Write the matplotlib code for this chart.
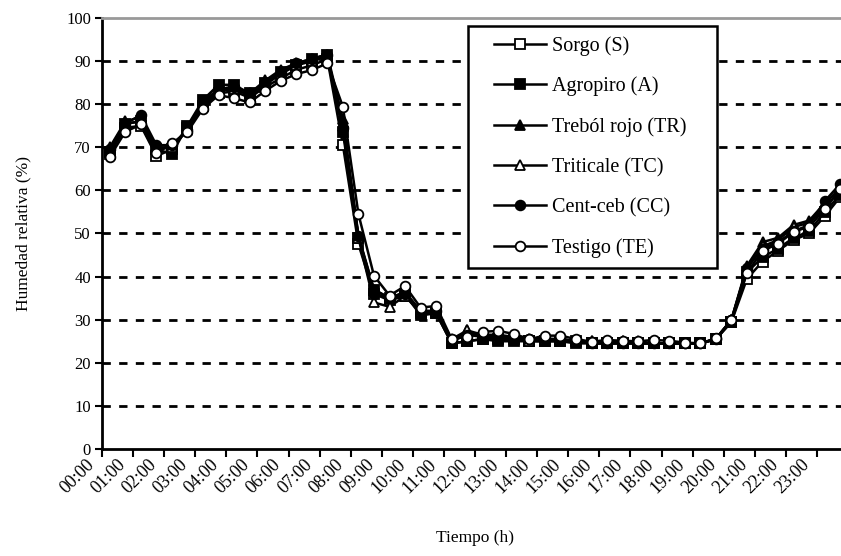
import numpy as np
import matplotlib.pyplot as plt
import matplotlib.transforms as mtransforms
from matplotlib.patches import Rectangle

plt.rcParams['font.family'] = ['Liberation Serif', 'DejaVu Serif']

# half-hour readings, 00:00 .. 23:30
horas = ["%02d:%02d" % (h, m) for h in range(24) for m in (0, 30)]
tick_labels = ["%02d:00" % h for h in range(24)]

sorgo = [68.5, 74.5, 75, 68, 69.5, 74.5, 79.5, 82.5, 83, 81.5, 84, 86, 88, 89, 90.5, 70.5,
         47.5, 36, 34.5, 35.5, 31.5, 31.5, 24.5, 25, 25.5, 25.5, 25.5, 25, 25, 25, 25, 24.5,
         24.5, 24.5, 24.5, 24.5, 24.5, 24.5, 24.5, 25.5, 29.5, 39.5, 43.5, 46, 48.5, 50, 54, 58.5]
agropiro = [69, 75.5, 76, 69.5, 68.5, 75, 81, 84.5, 84.5, 82.5, 85, 87.5, 89, 90.5, 91.5, 73.5,
            49, 37, 35, 36, 31, 31.5, 24.5, 25, 25.5, 25, 25, 25, 25, 25, 24.5, 24.5,
            24.5, 24.5, 24.5, 24.5, 24.5, 24.5, 24.5, 25.5, 29.5, 41, 44.5, 46.5, 49, 50.5, 55, 59]
trebol = [70, 76, 77, 70, 70, 74.5, 80.5, 83.5, 84, 82.5, 85.5, 88, 89.5, 90.5, 91.5, 76.5,
          49.5, 37, 35, 36.5, 32, 32, 25.5, 27.5, 26.5, 26.5, 26, 25.5, 25.5, 25.5, 25, 25,
          25, 25, 25, 24.5, 24.5, 24.5, 24.5, 25.5, 30, 42.5, 48, 49, 52, 53, 57, 60.5]
triticale = [69.5, 75.5, 76, 69.5, 70, 74, 80, 83, 83.5, 82, 84.5, 87, 89, 90, 91, 75,
             49, 34, 33, 35.5, 32, 32, 25, 27.5, 26, 26, 26, 25, 25.5, 25.5, 25, 25,
             25, 25, 24.5, 24.5, 24.5, 24.5, 24.5, 25.5, 30, 42, 47, 48.5, 51.5, 52.5, 56, 60]
centceb = [69.5, 75.5, 77.5, 70.5, 70.5, 74, 80.5, 83.5, 84, 82.5, 85, 87.5, 89.5, 90.5, 91.5, 74.5,
           49.5, 36, 35, 36, 32, 32, 25, 26.5, 26, 26, 25.5, 25.5, 25.5, 25.5, 25, 24.5,
           24.5, 24.5, 24.5, 24.5, 24.5, 24.5, 24.5, 25.5, 30, 42, 46.5, 48, 50.5, 52, 57.5, 61.5]
testigo = [67.8, 73.6, 75.3, 68.6, 70.9, 73.6, 79.0, 82.1, 81.4, 80.4, 83.1, 85.4, 87.0, 87.9, 89.5, 79.4,
           54.5, 40.2, 35.6, 37.8, 32.8, 33.2, 25.5, 26.1, 27.2, 27.4, 26.7, 25.5, 26.3, 26.3, 25.5, 24.9,
           25.3, 25.1, 25.0, 25.3, 25.1, 24.7, 24.5, 25.7, 29.9, 40.9, 46.0, 47.6, 50.4, 51.6, 55.6, 60.3]

series = [
    ("Sorgo (S)", sorgo, "s", "white"),
    ("Agropiro (A)", agropiro, "s", "black"),
    ("Treból rojo (TR)", trebol, "^", "black"),
    ("Triticale (TC)", triticale, "^", "white"),
    ("Cent-ceb (CC)", centceb, "o", "black"),
    ("Testigo (TE)", testigo, "o", "white"),
]

W, H = 841, 556
fig = plt.figure(figsize=(W / 100, H / 100), dpi=100)
ax = fig.add_axes([102 / W, 1 - 449 / H, 746 / W, 431 / H])

x = np.arange(len(horas))
for name, vals, mk, fc in series:
    ax.plot(x, vals, color="black", lw=1.8, marker=mk, markersize=7,
            markerfacecolor=fc, markeredgecolor="black", markeredgewidth=1.3,
            label=name, clip_on=False, zorder=3)

ax.set_xlim(-0.5, len(horas) - 0.5)
ax.set_ylim(0, 100)

# gridlines
for v in range(10, 100, 10):
    ax.axhline(v, color="black", lw=2, ls=(0, (3, 3)), zorder=1)

ax.set_yticks(range(0, 101, 10))
ax.tick_params(axis="y", direction="out", length=5, width=1.5, labelsize=12, pad=3)

# tick marks between categories, labels every hour
ax.set_xticks(np.arange(-0.5, len(horas), 2))
ax.set_xticklabels([])
ax.tick_params(axis="x", direction="out", length=6, width=1.5)
ax.set_xticks(np.arange(0, len(horas), 2), minor=True)
ax.set_xticklabels(tick_labels, minor=True, rotation=45, ha="right", va="top", fontsize=13)
ax.tick_params(axis="x", which="minor", length=0, pad=5)
offset = mtransforms.ScaledTranslation(-0.12, 0, fig.dpi_scale_trans)
for lbl in ax.xaxis.get_minorticklabels():
    lbl.set_transform(lbl.get_transform() + offset)

for s in ["left", "bottom"]:
    ax.spines[s].set_linewidth(2)
ax.spines["right"].set_visible(False)
ax.spines["top"].set_color("#999999")
ax.spines["top"].set_linewidth(2)

ax.set_xlabel("Tiempo (h)", fontsize=12.5, labelpad=24)
ax.set_ylabel("Humedad relativa (%)", fontsize=12.5, labelpad=25)

# legend box
fig.patches.append(Rectangle((468 / W, 1 - 268 / H), (717 - 468) / W, (268 - 26) / H,
                             transform=fig.transFigure, facecolor="white",
                             edgecolor="black", lw=1.8, zorder=5))
leg = fig.legend(loc="upper left", bbox_to_anchor=(494 / W, 1 - 36 / H),
                 fontsize=14.5, frameon=False, handlelength=2.6, labelspacing=1.04,
                 borderpad=0, borderaxespad=0, handletextpad=0.3)
leg.set_zorder(6)

plt.savefig("out.png", dpi=100)
